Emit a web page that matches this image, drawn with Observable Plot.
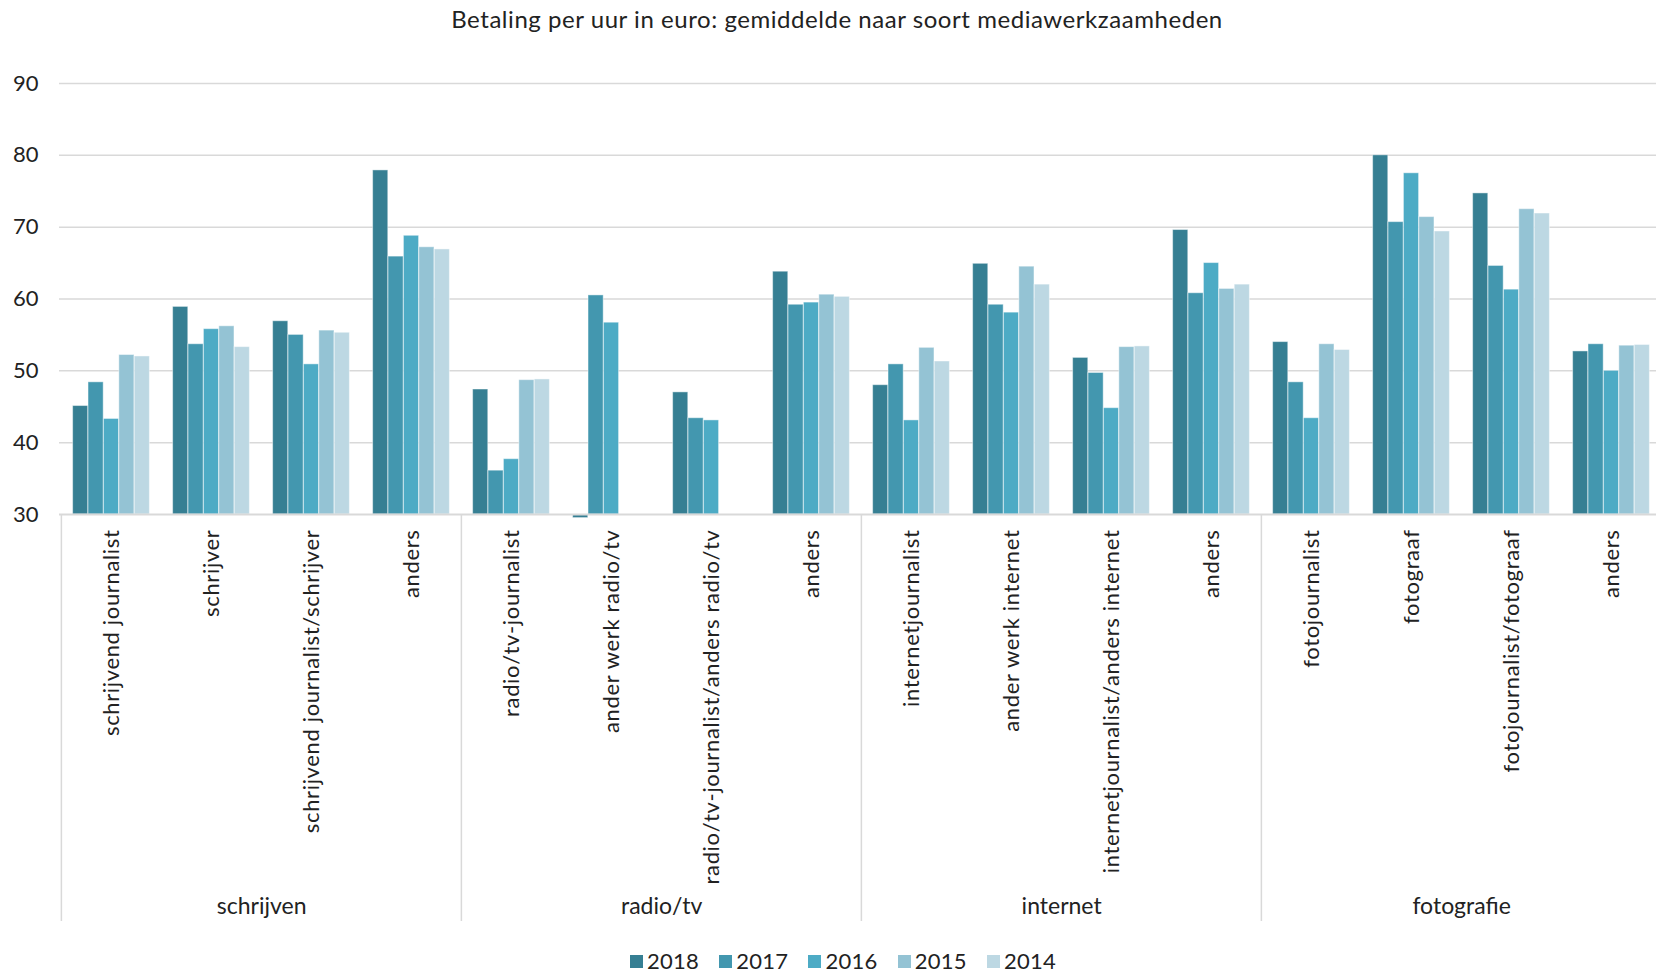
<!DOCTYPE html>
<html><head><meta charset="utf-8">
<script src="https://cdn.jsdelivr.net/npm/d3@7"></script>
<script src="https://cdn.jsdelivr.net/npm/@observablehq/plot@0.6"></script>
<style>
body{margin:0;background:#fff;font-family:Lato,"Open Sans",sans-serif;color:#222;width:1656px;overflow:hidden}
#title{height:40px;line-height:38px;text-align:center;font-size:24px;letter-spacing:0.55px;padding-left:18px;box-sizing:border-box;white-space:nowrap}
#legend{height:44px;box-sizing:border-box;padding-top:18px;padding-left:30px;display:flex;justify-content:center;gap:20px;font-size:22px;letter-spacing:0.3px;line-height:24px}
#legend .item{display:flex;align-items:center;gap:4px}
#legend .sw{width:13px;height:13px;display:inline-block}
</style></head><body>
<div id="title">Betaling per uur in euro: gemiddelde naar soort mediawerkzaamheden</div>
<div id="chart"></div>
<div id="legend"></div>
<script>
const groups = ["schrijven", "radio/tv", "internet", "fotografie"];
const categoryGroup = [0,0,0,0, 1,1,1,1, 2,2,2,2, 3,3,3,3];
const categoryLabels = [
  "schrijvend journalist", "schrijver", "schrijvend journalist/schrijver", "anders",
  "radio/tv-journalist", "ander werk radio/tv", "radio/tv-journalist/anders radio/tv", "anders",
  "internetjournalist", "ander werk internet", "internetjournalist/anders internet", "anders",
  "fotojournalist", "fotograaf", "fotojournalist/fotograaf", "anders"
];
const years = ["2018", "2017", "2016", "2015", "2014"];
const colors = ["#367f93", "#4397af", "#4dabc5", "#94c3d4", "#bdd8e3"];
const values2018 = [45.1, 58.9, 56.9, 77.9, 47.4, 29.5, 47.0, 63.8, 48.0, 64.9, 51.8, 69.6, 54.0, 80.0, 74.7, 52.7];
const values2017 = [48.4, 53.7, 55.0, 65.9, 36.1, 60.5, 43.4, 59.2, 50.9, 59.2, 49.7, 60.8, 48.4, 70.7, 64.6, 53.7];
const values2016 = [43.3, 55.8, 50.9, 68.8, 37.7, 56.7, 43.1, 59.5, 43.1, 58.1, 44.8, 65.0, 43.4, 77.5, 61.3, 50.0];
const values2015 = [52.2, 56.2, 55.6, 67.2, 48.7, null, null, 60.6, 53.2, 64.5, 53.3, 61.4, 53.7, 71.4, 72.5, 53.5];
const values2014 = [52.0, 53.3, 55.3, 66.9, 48.8, null, null, 60.3, 51.3, 62.0, 53.4, 62.0, 52.9, 69.4, 71.9, 53.6];
const yTicks = [30, 40, 50, 60, 70, 80, 90];

const seriesValues = [values2018, values2017, values2016, values2015, values2014];
const keys = categoryLabels.map((c, i) => groups[categoryGroup[i]] + "|" + c);
const cats = keys.map((k, i) => ({key: k, label: categoryLabels[i], group: groups[categoryGroup[i]]}));
const rows = [];
years.forEach((yr, yi) => seriesValues[yi].forEach((v, ci) => {
  if (v != null) rows.push({key: keys[ci], year: yr, value: v});
}));

// layout
const W = 1656, H = 890;
const mTop = 43, yBasePx = 474, frameBottom = 881;
const xLeft = 59, xRight = 1663;
const step = (xRight - xLeft) / keys.length;
const barW = 15.4;
const pad = (step - years.length * barW) / 2;
const pxPerUnit = (yBasePx - mTop) / (yTicks[yTicks.length - 1] - yTicks[0]);
const yMin = yTicks[0];
const yBottomVal = yMin - (frameBottom - yBasePx) / pxPerUnit;

const groupStarts = groups.map(g => cats.find(c => c.group === g));
const groupMids = groups.map(g => cats.filter(c => c.group === g)[1]);

const barMarks = years.map((yr, yi) => Plot.barY(rows.filter(d => d.year === yr), {
  x: "key", y1: () => yMin, y2: "value", fill: "year",
  insetLeft: pad + yi * barW, insetRight: pad + (years.length - 1 - yi) * barW,
  stroke: "#ffffff", strokeOpacity: 0.45, strokeWidth: 1
}));

const plot = Plot.plot({
  width: W, height: H,
  marginTop: mTop, marginLeft: xLeft, marginRight: 0, marginBottom: H - frameBottom,
  style: {fontFamily: "Lato, 'Open Sans', sans-serif", fontSize: "22px", color: "#222", background: "#fff", overflow: "visible"},
  x: {domain: keys, range: [xLeft, xRight], padding: 0, axis: null},
  y: {domain: [yTicks[0], yTicks[yTicks.length - 1]], range: [yBasePx, mTop], ticks: yTicks, tickSize: 0, tickPadding: 21, label: null, clamp: false},
  color: {domain: years, range: colors},
  marks: [
    Plot.ruleY(yTicks.slice(1), {stroke: "#d9d9d9", strokeWidth: 1.5}),
    ...barMarks,
    Plot.ruleY([yMin], {stroke: "#d9d9d9", strokeWidth: 2}),
    Plot.ruleX(groupStarts, {x: "key", y1: () => yMin, y2: () => yBottomVal, dx: -step / 2, stroke: "#d9d9d9", strokeWidth: 1.5}),
    Plot.text(cats, {x: "key", y: () => yMin, text: "label", rotate: -90, textAnchor: "end", dy: 15, fontSize: 22, fill: "#222"}),
    Plot.text(groupMids, {x: "key", y: () => yMin, text: "group", dx: step / 2, dy: 392, fontSize: 23, fill: "#222"})
  ]
});
document.getElementById("chart").appendChild(plot);
// letter spacing for the rotated category labels
plot.querySelectorAll("g[aria-label='text']").forEach((g, i) => { if (i === 0) g.querySelectorAll("text").forEach(t => t.style.letterSpacing = "0.65px"); });

const legend = document.getElementById("legend");
years.forEach((yr, i) => {
  const item = document.createElement("div");
  item.className = "item";
  const sw = document.createElement("span");
  sw.className = "sw";
  sw.style.background = colors[i];
  const t = document.createElement("span");
  t.textContent = yr;
  item.appendChild(sw); item.appendChild(t);
  legend.appendChild(item);
});
</script>
</body></html>
